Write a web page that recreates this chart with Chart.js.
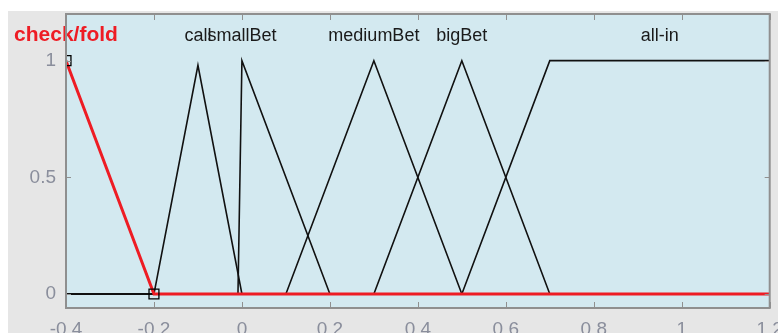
<!DOCTYPE html>
<html><head><meta charset="utf-8">
<script src="https://cdn.jsdelivr.net/npm/chart.js@4/dist/chart.umd.min.js"></script>
<style>html,body{margin:0;padding:0;background:#fff;overflow:hidden}</style>
</head><body>
<canvas id="c" width="778" height="333"></canvas>
<script>
// ---- data ----
const xTicks = [-0.4, -0.2, 0, 0.2, 0.4, 0.6, 0.8, 1, 1.2];
const yTicks = [0, 0.5, 1];
const mfNames = ['check/fold', 'call', 'smallBet', 'mediumBet', 'bigBet', 'all-in'];
const labelX = [-0.4, -0.1, 0, 0.3, 0.5, 0.95];

const checkFoldX = [-0.4, -0.2, 1.2];
const checkFoldY = [1, 0, 0];
const callX = [-0.4, -0.2, -0.1, 0, 1.2];
const callY = [0, 0, 0.98, 0, 0];
const smallBetX = [-0.4, -0.009, 0, 0.2, 1.2];
const smallBetY = [0, 0, 1, 0, 0];
const mediumBetX = [-0.4, 0.1, 0.3, 0.5, 1.2];
const mediumBetY = [0, 0, 1, 0, 0];
const bigBetX = [-0.4, 0.3, 0.5, 0.7, 1.2];
const bigBetY = [0, 0, 1, 0, 0];
const allInX = [-0.4, 0.5, 0.7, 1.2];
const allInY = [0, 0, 1, 1];

const pts = (xs, ys) => xs.map((x, i) => ({x: x, y: ys[i]}));

const FONT = '"Liberation Sans", Arial, sans-serif';

const bgPlugin = {
  id: 'bg',
  beforeDraw(chart) {
    const ctx = chart.ctx, a = chart.chartArea;
    ctx.save();
    ctx.fillStyle = '#ffffff';
    ctx.fillRect(0, 0, chart.width, chart.height);
    ctx.fillStyle = '#e6e6e6';
    ctx.fillRect(8, 11, chart.width - 8, chart.height - 11);
    ctx.fillStyle = '#d3e9f0';
    ctx.fillRect(a.left, a.top, a.right - a.left, a.bottom - a.top);
    ctx.restore();
  },
  afterDatasetsDraw(chart) {
    const ctx = chart.ctx, xs = chart.scales.x, ys = chart.scales.y;
    ctx.save();
    ctx.textAlign = 'center';
    ctx.textBaseline = 'alphabetic';
    const ly = ys.getPixelForValue(1.2) + 27;
    mfNames.forEach((n, i) => {
      if (i === 0) { ctx.font = 'bold 21px ' + FONT; ctx.fillStyle = '#ee1c24'; }
      else { ctx.font = '18px ' + FONT; ctx.fillStyle = '#1a1a1a'; }
      ctx.fillText(n, xs.getPixelForValue(labelX[i]), ly);
    });
    ctx.restore();
  },
  afterDraw(chart) {
    const ctx = chart.ctx, a = chart.chartArea, xs = chart.scales.x, ys = chart.scales.y;
    ctx.save();
    ctx.strokeStyle = '#909090';
    ctx.lineWidth = 1;
    ctx.beginPath();
    xTicks.forEach(v => {
      const p = Math.round(xs.getPixelForValue(v)) + 0.5;
      ctx.moveTo(p, a.bottom); ctx.lineTo(p, a.bottom - 6);
      ctx.moveTo(p, a.top); ctx.lineTo(p, a.top + 6);
    });
    yTicks.forEach(v => {
      const p = Math.round(ys.getPixelForValue(v)) + 0.5;
      ctx.moveTo(a.left, p); ctx.lineTo(a.left + 5, p);
      ctx.moveTo(a.right, p); ctx.lineTo(a.right - 5, p);
    });
    ctx.stroke();
    ctx.lineWidth = 2;
    ctx.strokeStyle = '#8f8f8f';
    ctx.strokeRect(a.left, a.top, a.right - a.left, a.bottom - a.top);
    ctx.restore();
  }
};

const black = (label, data) => ({
  label, data, showLine: true, borderColor: '#111111', borderWidth: 1.6,
  pointRadius: 0, tension: 0
});

new Chart(document.getElementById('c'), {
  type: 'scatter',
  data: {
    datasets: [
      {
        label: mfNames[0], data: pts(checkFoldX, checkFoldY), showLine: true,
        borderColor: '#ee1c24', borderWidth: 3, tension: 0,
        pointRadius: [7, 7, 0], pointStyle: 'rect',
        pointBorderColor: '#000000', pointBorderWidth: 1.3,
        pointBackgroundColor: 'rgba(0,0,0,0)'
      },
      black(mfNames[1], pts(callX, callY)),
      black(mfNames[2], pts(smallBetX, smallBetY)),
      black(mfNames[3], pts(mediumBetX, mediumBetY)),
      black(mfNames[4], pts(bigBetX, bigBetY)),
      black(mfNames[5], pts(allInX, allInY))
    ]
  },
  options: {
    responsive: false,
    animation: false,
    events: [],
    devicePixelRatio: 1,
    layout: { padding: { left: 0, right: 7.5, top: 14, bottom: 0 } },
    plugins: { legend: { display: false }, tooltip: { enabled: false } },
    scales: {
      x: {
        type: 'linear', min: -0.4, max: 1.2,
        grid: { display: false }, border: { display: false },
        afterBuildTicks: s => { s.ticks = xTicks.map(v => ({value: v})); },
        afterFit: s => { s.height = 25; s.paddingLeft = 0; s.paddingRight = 0; },
        ticks: {
          color: '#8a8e9c', padding: 2, maxRotation: 0, autoSkip: false,
          font: { family: FONT, size: 19 },
          callback: v => String(v)
        }
      },
      y: {
        type: 'linear', min: -0.06, max: 1.2,
        grid: { display: false }, border: { display: false },
        afterBuildTicks: s => { s.ticks = yTicks.map(v => ({value: v})); },
        afterFit: s => { s.width = 66; s.paddingTop = 0; s.paddingBottom = 0; },
        ticks: {
          color: '#8a8e9c', padding: 2, autoSkip: false,
          font: { family: FONT, size: 19 },
          callback: v => String(v)
        }
      }
    }
  },
  plugins: [bgPlugin]
});
</script>
</body></html>
